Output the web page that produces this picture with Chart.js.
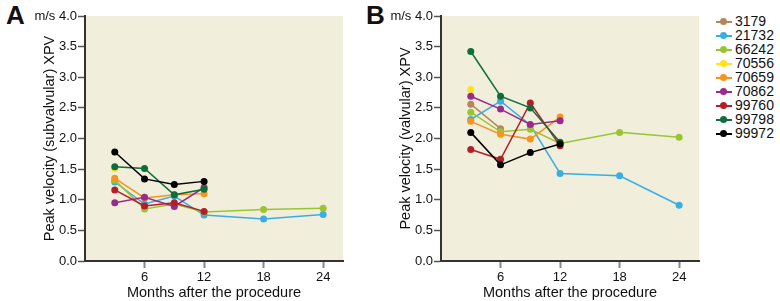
<!DOCTYPE html>
<html><head><meta charset="utf-8">
<script src="https://cdn.jsdelivr.net/npm/chart.js@4"></script>
<style>
html,body{margin:0;padding:0;background:#fff;width:780px;height:301px;overflow:hidden;position:relative;font-family:'Liberation Sans',Arial,sans-serif;}
canvas{position:absolute;top:0;}
.panel{position:absolute;top:0;font:bold 26px 'Liberation Sans Narrow','Liberation Sans',sans-serif;color:#111;}
.leg{position:absolute;left:716px;height:14px;width:64px;}
.leg .ln{position:absolute;left:0;top:6px;width:16px;height:2px;}
.leg .dt{position:absolute;left:4px;top:3px;width:7px;height:7px;border-radius:50%;}
.leg .tx{position:absolute;left:19px;top:-2px;font-size:14px;color:#111;}
</style></head>
<body>
<div class="panel" style="left:6px;top:0px">A</div>
<div class="panel" style="left:366px;top:0px">B</div>
<canvas id="cA" width="360" height="301" style="left:0"></canvas>
<canvas id="cB" width="360" height="301" style="left:356px"></canvas>
<div id="legend"></div>
<script>
// ---- data ----
const months = [3, 6, 9, 12, 18, 24];
const patients = ['3179', '21732', '66242', '70556', '70659', '70862', '99760', '99798', '99972'];
const colors = ['#b5865a', '#3aaee2', '#99c532', '#ffe21a', '#f7941d', '#9b2a8c', '#b02026', '#0e6d3a', '#000000'];
const yTicks = [0, 0.5, 1, 1.5, 2, 2.5, 3, 3.5, 4];
const xTicks = [6, 12, 18, 24];

// Panel A: peak velocity (subvalvular) XPV, m/s
const subA_3179  = [null, null, null, null, null, null];
const subA_21732 = [1.29, 0.93, 1.06, 0.75, 0.685, 0.76];
const subA_66242 = [1.32, 0.85, 0.93, 0.80, 0.84, 0.86];
const subA_70556 = [1.51, null, null, null, null, null];
const subA_70659 = [1.35, 1.03, 1.08, 1.10, null, null];
const subA_70862 = [0.95, 1.04, 0.89, 1.20, null, null];
const subA_99760 = [1.16, 0.90, 0.95, 0.81, null, null];
const subA_99798 = [1.54, 1.51, 1.08, 1.17, null, null];
const subA_99972 = [1.78, 1.34, 1.25, 1.30, null, null];

// Panel B: peak velocity (valvular) XPV, m/s
const valB_3179  = [2.56, 2.16, null, null, null, null];
const valB_21732 = [2.31, 2.61, 2.22, 1.43, 1.39, 0.91];
const valB_66242 = [2.43, 2.11, 2.15, 1.92, 2.10, 2.02];
const valB_70556 = [2.80, null, null, null, null, null];
const valB_70659 = [2.28, 2.07, 1.99, 2.35, null, null];
const valB_70862 = [2.69, 2.48, 2.23, 2.29, null, null];
const valB_99760 = [1.82, 1.66, 2.58, 1.88, null, null];
const valB_99798 = [3.42, 2.69, 2.50, 1.94, null, null];
const valB_99972 = [2.10, 1.57, 1.77, 1.91, null, null];

const seriesA = [subA_3179, subA_21732, subA_66242, subA_70556, subA_70659, subA_70862, subA_99760, subA_99798, subA_99972];
const seriesB = [valB_3179, valB_21732, valB_66242, valB_70556, valB_70659, valB_70862, valB_99760, valB_99798, valB_99972];

// ---- chart construction ----
const tickFont = {family: "'Liberation Sans Narrow','Liberation Sans',sans-serif", size: 13};
const titleFont = {family: "'Liberation Sans',Arial,sans-serif", size: 14.5};

const bgPlugin = {
  id: 'bg',
  beforeDraw(chart) {
    const {ctx, chartArea: {left, top, right, bottom}} = chart;
    ctx.save();
    ctx.fillStyle = '#f2eedc';
    ctx.fillRect(left, top, right - left, bottom - top);
    ctx.restore();
  }
};

function makeDatasets(series) {
  return series.map((vals, i) => ({
    label: patients[i],
    data: months.map((m, j) => ({x: m, y: vals[j]})).filter(p => p.y !== null),
    borderColor: colors[i],
    backgroundColor: colors[i],
    borderWidth: 1.5,
    pointRadius: 3.5,
    pointBorderWidth: 0,
    pointHoverRadius: 3.5,
    order: series.length - i
  }));
}

function makeChart(id, series, yTitle) {
  return new Chart(document.getElementById(id), {
    type: 'line',
    data: {datasets: makeDatasets(series)},
    plugins: [bgPlugin],
    options: {
      responsive: false,
      devicePixelRatio: 1,
      animation: false,
      layout: {padding: {left: 0, top: 16, right: 17, bottom: 0}},
      plugins: {legend: {display: false}, tooltip: {enabled: false}},
      scales: {
        x: {
          type: 'linear', min: 0, max: 26,
          afterBuildTicks: s => { s.ticks = xTicks.map(v => ({value: v})); },
          afterFit: s => { s.height = 40; },
          ticks: {font: tickFont, color: '#111', padding: 2, maxRotation: 0, callback: v => String(v)},
          grid: {drawOnChartArea: false, drawTicks: true, tickLength: 7, color: '#888', tickWidth: 2},
          border: {display: true, color: '#333', width: 2},
          title: {display: true, text: 'Months after the procedure', font: titleFont, color: '#111', padding: {top: 0, bottom: -1}}
        },
        y: {
          min: 0, max: 4,
          afterBuildTicks: s => { s.ticks = yTicks.map(v => ({value: v})); },
          afterFit: s => { s.width = 85; },
          ticks: {font: tickFont, color: '#111', padding: 1, callback: v => v === 4 ? 'm/s 4.0' : v.toFixed(1)},
          grid: {drawOnChartArea: false, drawTicks: true, tickLength: 7, color: '#555', tickWidth: 1.5},
          border: {display: true, color: '#333', width: 2},
          title: {display: true, text: yTitle, font: titleFont, color: '#111', padding: {top: 41, bottom: 0}}
        }
      }
    }
  });
}

makeChart('cA', seriesA, 'Peak velocity (subvalvular) XPV');
makeChart('cB', seriesB, 'Peak velocity (valvular) XPV');

// ---- legend ----
const leg = document.getElementById('legend');
patients.forEach((p, i) => {
  const d = document.createElement('div');
  d.className = 'leg';
  d.style.top = (15 + i * 14) + 'px';
  d.innerHTML = '<div class="ln" style="background:' + colors[i] + '"></div><div class="dt" style="background:' + colors[i] + '"></div><div class="tx">' + p + '</div>';
  leg.appendChild(d);
});
</script>
</body></html>
